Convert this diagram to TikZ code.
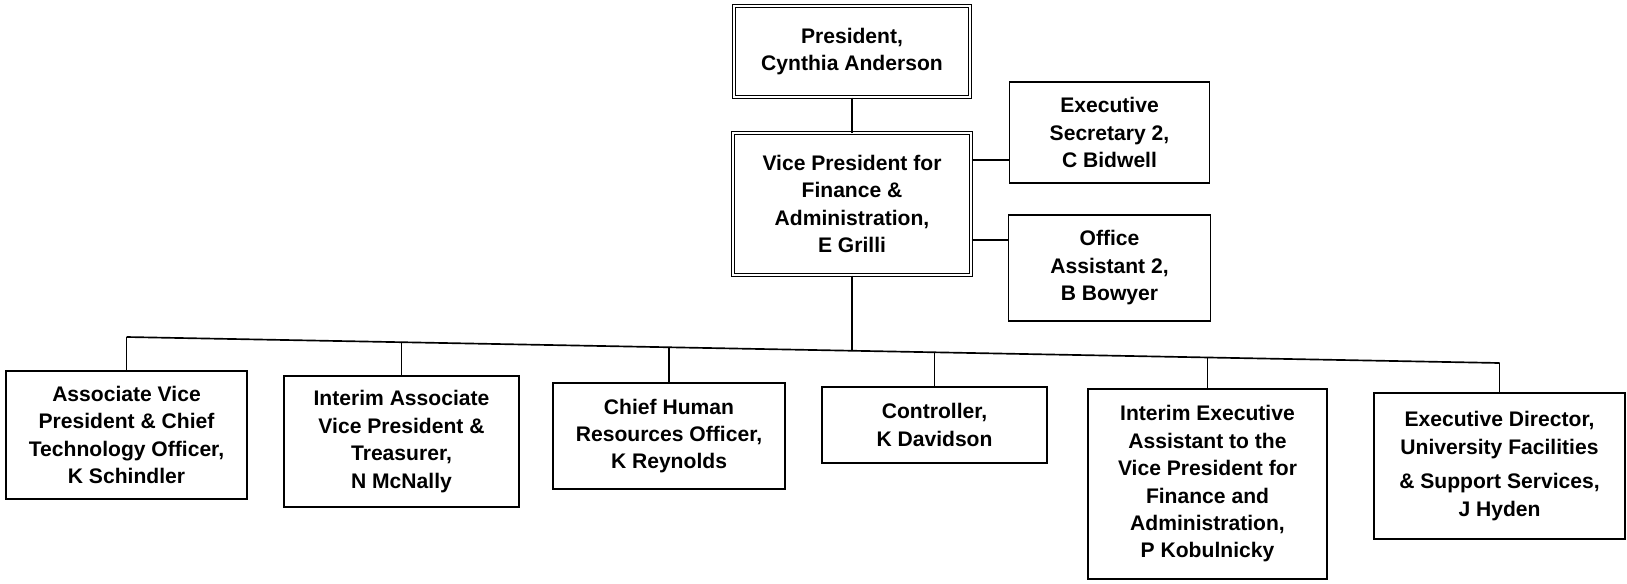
\documentclass[tikz,border=0pt]{standalone}
\usepackage{fontspec}
\setmainfont{Liberation Sans}
\usetikzlibrary{positioning,calc}

\begin{document}
\begin{tikzpicture}[
    node distance=0.7cm and 0.74cm,
    head/.style={draw, double, line width=0.65pt, double distance=1.3pt, align=center, font=\fontsize{12}{15.6}\selectfont\bfseries},
    post/.style={draw, line width=1.05pt, align=center, font=\fontsize{12}{15.6}\selectfont\bfseries},
    link/.style={line width=0.95pt}
]
\useasboundingbox (0,0) rectangle (32.54,-11.66);

\node[head, minimum width=4.72cm, minimum height=1.82cm] (pres) at (17.04,-1.03) {President,\\Cynthia Anderson};
\node[head, minimum width=4.76cm, minimum height=2.84cm, below=of pres] (vp) {Vice President for\\Finance \&\\Administration,\\E Grilli};
\node[post, minimum width=4.0cm, minimum height=2.02cm, right=of vp.north east] (sec) {Executive\\Secretary 2,\\C Bidwell};
\node[post, minimum width=4.04cm, minimum height=2.12cm, below=0.6cm of sec] (office) {Office\\Assistant 2,\\B Bowyer};

\node[post, minimum width=4.82cm, minimum height=2.56cm] (avp) at (2.53,-8.70) {Associate Vice\\President \& Chief\\Technology Officer,\\K Schindler};
\node[post, minimum width=4.70cm, minimum height=2.62cm] (treas) at (8.03,-8.83) {Interim Associate\\Vice President \&\\Treasurer,\\N McNally};
\node[post, minimum width=4.64cm, minimum height=2.12cm] (hr) at (13.38,-8.72) {Chief Human\\Resources Officer,\\K Reynolds};
\node[post, minimum width=4.50cm, minimum height=1.52cm] (ctrl) at (18.69,-8.50) {Controller,\\K Davidson};
\node[post, minimum width=4.78cm, minimum height=3.80cm] (asst) at (24.15,-9.68) {Interim Executive\\Assistant to the\\Vice President for\\Finance and\\Administration,\\P Kobulnicky};
\node[post, minimum width=5.02cm, minimum height=2.92cm] (fac) at (29.99,-9.32) {Executive Director,\\University Facilities\\[4pt]\& Support Services,\\J Hyden};

% reporting lines
\draw[link] (pres.south) -- (vp.north);
\draw[link] ($(vp.north east)!0.19!(vp.south east)$) coordinate (vs) -- (vs -| sec.west);
\draw[link] ($(vp.north east)!0.75!(vp.south east)$) coordinate (vo) -- (vo -| office.west);

% bus to the units
\coordinate (busL) at (2.53,-6.74);
\coordinate (busR) at (29.99,-7.26);
\coordinate (jvp) at ($(busL)!(vp.south)!(busR)$);
\coordinate (jtreas) at ($(busL)!(treas.north)!(busR)$);
\coordinate (jhr) at ($(busL)!(hr.north)!(busR)$);
\coordinate (jctrl) at ($(busL)!(ctrl.north)!(busR)$);
\coordinate (jasst) at ($(busL)!(asst.north)!(busR)$);
\draw[link] (busL) -- (busR);
\draw[link] (vp.south) -- (vp.south |- jvp);
\draw[link] (avp.north) -- (busL);
\draw[link] (treas.north) -- (treas.north |- jtreas);
\draw[link] (hr.north) -- (hr.north |- jhr);
\draw[link] (ctrl.north) -- (ctrl.north |- jctrl);
\draw[link] (asst.north) -- (asst.north |- jasst);
\draw[link] (fac.north) -- (busR);
\end{tikzpicture}
\end{document}
